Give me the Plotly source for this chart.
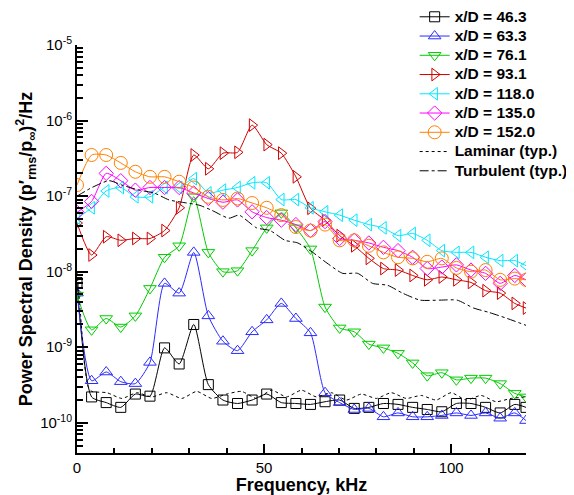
import plotly.graph_objects as go

# ---------------- data ----------------
freq = [0, 3.9, 7.8, 11.7, 15.6, 19.5, 23.4, 27.3, 31.2, 35.1, 39.0, 42.9, 46.8, 50.7,
        54.6, 58.5, 62.4, 66.3, 70.2, 74.1, 78.0, 81.9, 85.8, 89.7, 93.6, 97.5, 101.4,
        105.3, 109.2, 113.1, 117.0, 120.0]

psd_46_3 = [7.2e-9, 2.2e-10, 1.85e-10, 1.6e-10, 2.4e-10, 2.25e-10, 9.8e-10, 6.0e-10, 2.0e-9,
            3.2e-10, 2.0e-10, 1.8e-10, 2.0e-10, 2.4e-10, 1.85e-10, 1.8e-10, 1.75e-10, 1.9e-10,
            2.0e-10, 1.55e-10, 1.6e-10, 1.8e-10, 1.75e-10, 1.6e-10, 1.5e-10, 1.4e-10, 1.8e-10,
            1.8e-10, 1.6e-10, 1.35e-10, 1.75e-10, 1.6e-10]

psd_63_3 = [5.2e-9, 3.6e-10, 4.7e-10, 3.5e-10, 3.3e-10, 6.3e-10, 7.0e-9, 5.2e-9, 1.8e-8,
            2.6e-9, 1.2e-9, 9.0e-10, 1.6e-9, 2.3e-9, 3.8e-9, 2.4e-9, 1.55e-9, 2.5e-10,
            1.85e-10, 1.5e-10, 1.55e-10, 1.2e-10, 1.35e-10, 1.2e-10, 1.2e-10, 1.25e-10,
            1.35e-10, 1.25e-10, 1.35e-10, 1.15e-10, 1.35e-10, 1.07e-10]

psd_76_1 = [4.9e-9, 1.7e-9, 2.4e-9, 1.85e-9, 2.6e-9, 6.0e-9, 1.55e-8, 2.2e-8, 9.8e-8,
            1.8e-8, 1.0e-8, 1.03e-8, 1.9e-8, 3.8e-8, 6.0e-8, 3.8e-8, 2.0e-8, 3.4e-9,
            1.8e-9, 1.6e-9, 1.1e-9, 9.8e-10, 8.3e-10, 6.2e-10, 4.2e-10, 4.6e-10, 3.7e-10,
            3.9e-10, 3.9e-10, 3.3e-10, 2.45e-10, 2.2e-10]

psd_93_1 = [4.4e-8, 1.66e-8, 2.9e-8, 2.6e-8, 2.75e-8, 2.75e-8, 3.5e-8, 7.0e-8, 3.5e-7,
            2.3e-7, 3.7e-7, 3.8e-7, 8.7e-7, 4.8e-7, 3.7e-7, 1.8e-7, 6.9e-8, 4.8e-8,
            3.0e-8, 2.2e-8, 1.5e-8, 1.1e-8, 1.05e-8, 8.9e-9, 7.8e-9, 8.5e-9, 7.8e-9,
            7.2e-9, 5.6e-9, 5.2e-9, 3.8e-9, 3.3e-9]

psd_118_0 = [5.1e-8, 7.0e-8, 1.17e-7, 1.3e-7, 9.8e-8, 9.8e-8, 1.3e-7, 1.3e-7, 1.7e-7,
             1.1e-7, 1.2e-7, 1.3e-7, 1.5e-7, 1.5e-7, 9.0e-8, 9.0e-8, 7.0e-8, 6.2e-8,
             5.6e-8, 4.8e-8, 4.2e-8, 3.8e-8, 3.0e-8, 3.2e-8, 2.6e-8, 1.9e-8, 1.8e-8,
             1.8e-8, 1.55e-8, 1.4e-8, 1.4e-8, 1.2e-8]

psd_135_0 = [6.1e-8, 8.5e-8, 2.0e-7, 1.6e-7, 1.2e-7, 1.3e-7, 1.3e-7, 1.3e-7, 1.1e-7,
             9.3e-8, 8.3e-8, 8.9e-8, 6.2e-8, 5.2e-8, 4.8e-8, 4.2e-8, 3.5e-8, 4.6e-8,
             2.75e-8, 2.6e-8, 2.4e-8, 2.1e-8, 1.9e-8, 1.55e-8, 1.1e-8, 1.15e-8, 1.23e-8,
             1.05e-8, 9.5e-9, 7.0e-9, 8.9e-9, 7.8e-9]

psd_152_0 = [1.4e-7, 3.5e-7, 3.5e-7, 2.75e-7, 2.1e-7, 1.8e-7, 1.8e-7, 1.55e-7, 1.3e-7,
             9.8e-8, 8.9e-8, 9.3e-8, 8.1e-8, 7.0e-8, 5.6e-8, 3.9e-8, 3.5e-8, 4.2e-8,
             2.6e-8, 2.6e-8, 2.2e-8, 1.8e-8, 1.55e-8, 1.5e-8, 1.35e-8, 1.5e-8, 1.12e-8,
             1.0e-8, 1.05e-8, 7.8e-9, 8.1e-9, 7.8e-9]

lam_freq = [0, 1, 2, 3, 4, 8, 12, 16, 20, 24, 28, 32, 36, 40, 44, 48, 52, 56, 60, 64, 68,
            72, 76, 80, 84, 88, 92, 96, 100, 104, 108, 112, 116, 120]
lam_psd = [1.0e-8, 2.5e-9, 6e-10, 3e-10, 2.6e-10, 2.5e-10, 2.1e-10, 2.5e-10, 2.2e-10,
           2.5e-10, 2.1e-10, 2.6e-10, 2.1e-10, 2.4e-10, 2.6e-10, 2.1e-10, 2.7e-10, 2.2e-10,
           2.7e-10, 2.2e-10, 2.5e-10, 2.0e-10, 2.4e-10, 2.1e-10, 2.5e-10, 2.1e-10, 2.3e-10,
           2.0e-10, 2.5e-10, 2.0e-10, 2.3e-10, 1.9e-10, 2.1e-10, 2.2e-10]

turb_freq = [0, 4, 8.6, 12, 16.6, 20.6, 24.6, 28, 32.6, 36, 40.6, 43.3, 48, 51.6, 55.6, 59,
             63, 66.8, 71, 75, 79, 83, 87, 91.7, 97, 101.6, 106, 110, 115, 120]
turb_psd = [1.0e-7, 1.3e-7, 1.6e-7, 1.4e-7, 1.2e-7, 1.1e-7, 8.9e-8, 8.3e-8, 7.6e-8, 6.5e-8,
            5.1e-8, 5.6e-8, 3.8e-8, 3.5e-8, 2.6e-8, 2.4e-8, 1.8e-8, 1.3e-8, 9.5e-9, 9.5e-9,
            7.0e-9, 6.6e-9, 5.2e-9, 4.2e-9, 4.2e-9, 4.2e-9, 3.3e-9, 2.9e-9, 2.4e-9, 1.95e-9]

series_names = ["x/D = 46.3", "x/D = 63.3", "x/D = 76.1", "x/D = 93.1",
                "x/D = 118.0", "x/D = 135.0", "x/D = 152.0"]
series_values = [psd_46_3, psd_63_3, psd_76_1, psd_93_1, psd_118_0, psd_135_0, psd_152_0]

y_tick_vals = [1e-10, 1e-9, 1e-8, 1e-7, 1e-6, 1e-5]
y_tick_text = ["10<sup>-10</sup>", "10<sup>-9</sup>", "10<sup>-8</sup>", "10<sup>-7</sup>",
               "10<sup>-6</sup>", "10<sup>-5</sup>"]

# ---------------- styles ----------------
colors = ["#000000", "#2b2bff", "#00cc00", "#d00000", "#00e8ff", "#ff00ff", "#ff8000"]
symbols = ["square-open", "triangle-up-open", "triangle-down-open", "triangle-right-open",
           "triangle-left-open", "diamond-open", "circle-open"]
msizes = [10, 11, 11, 11, 11, 11, 13]

FONT = "Arial, Liberation Sans, Helvetica, sans-serif"


def lg(txt):
    return '<span style="font-size:15.5px">' + txt + '</span>'


fig = go.Figure()
for name, vals, c, s, ms in zip(series_names, series_values, colors, symbols, msizes):
    fig.add_trace(go.Scatter(
        x=freq, y=vals, name=lg(name), mode="lines+markers",
        line=dict(color=c, width=1, shape="spline", smoothing=0.6),
        marker=dict(symbol=s, size=ms, color=c, line=dict(color=c, width=1)),
    ))

fig.add_trace(go.Scatter(
    x=lam_freq, y=lam_psd, name=lg("Laminar (typ.)"), mode="lines",
    line=dict(color="black", width=1, dash="dot", shape="spline", smoothing=0.6),
))
fig.add_trace(go.Scatter(
    x=turb_freq, y=turb_psd, name=lg("Turbulent (typ.)"), mode="lines",
    line=dict(color="black", width=1, dash="dashdot", shape="spline", smoothing=0.6),
))

minor_vals = [k * 10.0 ** e for e in range(-11, -5) for k in range(2, 10)]

fig.update_layout(
    width=566, height=487,
    margin=dict(l=69, r=48, t=37, b=42, autoexpand=False),
    paper_bgcolor="white", plot_bgcolor="white",
    font=dict(family=FONT, color="black", size=15),
    showlegend=True,
    legend=dict(
        x=0.752, y=1.105, xanchor="left", yanchor="top",
        bgcolor="rgba(0,0,0,0)", borderwidth=0,
        font=dict(family=FONT, size=12.5, color="black", weight="bold"),
        tracegroupgap=0, itemwidth=30,
    ),
    xaxis=dict(
        range=[0, 120], showgrid=False, zeroline=False,
        showline=True, linecolor="black", linewidth=2,
        ticks="inside", ticklen=9, tickwidth=2, tickcolor="black",
        tickvals=[0, 50, 100], ticktext=["0", "50", "100"],
        tickfont=dict(family=FONT, size=15),
        minor=dict(tickvals=[10, 20, 30, 40, 60, 70, 80, 90, 110, 120],
                   ticks="inside", ticklen=5, tickwidth=1.5, tickcolor="black"),
        automargin=True,
        title=dict(text="Frequency, kHz", standoff=4,
                   font=dict(family=FONT, size=18, weight="bold")),
        mirror=False,
    ),
    yaxis=dict(
        type="log", range=[-10.4, -5], showgrid=False, zeroline=False,
        showline=True, linecolor="black", linewidth=2,
        ticks="inside", ticklen=11, tickwidth=2, tickcolor="black",
        tickvals=y_tick_vals, ticktext=y_tick_text,
        tickfont=dict(family=FONT, size=15),
        ticklabelstandoff=0,
        minor=dict(tickvals=minor_vals, ticks="inside", ticklen=6, tickwidth=1.5,
                   tickcolor="black"),
        title=dict(text="Power Spectral Density (p′<sub>rms</sub>/p<sub>∞</sub>)<sup>2</sup>/Hz",
                   standoff=3, font=dict(family=FONT, size=18, weight="bold")),
        mirror=False,
    ),
)

fig.write_html("out.html")
